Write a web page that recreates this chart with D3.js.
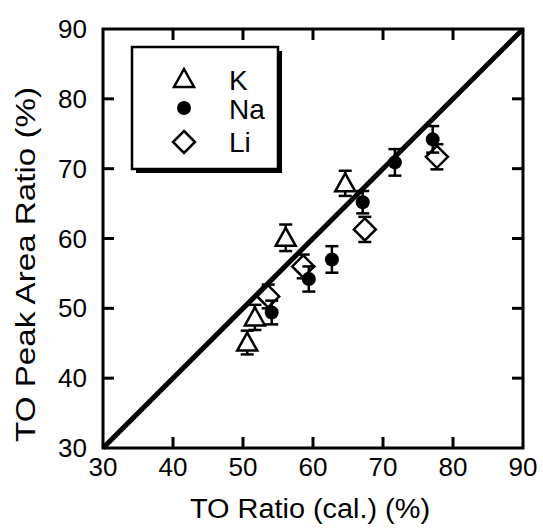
<!DOCTYPE html>
<html><head><meta charset="utf-8">
<script src="https://cdn.jsdelivr.net/npm/d3@7"></script>
<style>body{margin:0;background:#fff}svg{display:block}text{font-family:"Liberation Sans",Arial,sans-serif;fill:#000}</style>
</head><body>
<script>
const ticks = [30, 40, 50, 60, 70, 80, 90];
const kX = [50.6, 51.7, 56.1, 64.6];
const kY = [45.1, 48.7, 60.1, 67.9];
const kErr = [1.7, 1.8, 1.9, 1.8];
const naX = [54.1, 59.4, 62.7, 67.1, 71.7, 77.1];
const naY = [49.4, 54.2, 57.0, 65.2, 70.9, 74.2];
const naErr = [1.7, 1.8, 1.9, 1.6, 1.9, 1.9];
const liX = [53.6, 58.6, 67.4, 77.7];
const liY = [51.7, 56.0, 61.3, 71.7];
const liErr = [1.7, 1.7, 1.8, 1.8];
const seriesNames = ["K", "Na", "Li"];

const W = 543, H = 529;
const svg = d3.select("body").append("svg").attr("width", W).attr("height", H);
const x = d3.scaleLinear().domain([30, 90]).range([103, 523]);
const y = d3.scaleLinear().domain([30, 90]).range([448, 29]);

const g = svg.append("g");
g.append("rect").attr("x", x(30)).attr("y", y(90)).attr("width", x(90) - x(30)).attr("height", y(30) - y(90))
  .attr("fill", "none").attr("stroke", "#000").attr("stroke-width", 3);

const tl = 11;
const inner = ticks.slice(1, -1);
inner.forEach(t => {
  g.append("line").attr("x1", x(t)).attr("x2", x(t)).attr("y1", y(30)).attr("y2", y(30) - tl).attr("stroke", "#000").attr("stroke-width", 3);
  g.append("line").attr("x1", x(t)).attr("x2", x(t)).attr("y1", y(90)).attr("y2", y(90) + tl).attr("stroke", "#000").attr("stroke-width", 3);
  g.append("line").attr("y1", y(t)).attr("y2", y(t)).attr("x1", x(30)).attr("x2", x(30) + tl).attr("stroke", "#000").attr("stroke-width", 3);
  g.append("line").attr("y1", y(t)).attr("y2", y(t)).attr("x1", x(90)).attr("x2", x(90) - tl).attr("stroke", "#000").attr("stroke-width", 3);
});
ticks.forEach(t => {
  g.append("text").attr("x", x(t)).attr("y", 476).attr("text-anchor", "middle").attr("font-size", 26).text(t);
  g.append("text").attr("x", 87).attr("y", y(t) + 9).attr("text-anchor", "end").attr("font-size", 26).text(t);
});
g.append("text").attr("x", 190).attr("y", 518).attr("font-size", 27)
  .attr("textLength", 240).attr("lengthAdjust", "spacingAndGlyphs").text("TO Ratio (cal.) (%)");
g.append("text").attr("transform", `translate(35,442) rotate(-90)`).attr("font-size", 27)
  .attr("textLength", 355).attr("lengthAdjust", "spacingAndGlyphs").text("TO Peak Area Ratio (%)");

g.append("line").attr("x1", x(30)).attr("y1", y(30)).attr("x2", x(90)).attr("y2", y(90)).attr("stroke", "#000").attr("stroke-width", 5);

function drawMarker(sel, kind, cx, cy) {
  if (kind === "K") {
    const s = 10;
    sel.append("path").attr("d", `M${cx},${cy - s} L${cx + s},${cy + s * 0.8} L${cx - s},${cy + s * 0.8} Z`)
      .attr("fill", "#fff").attr("stroke", "#000").attr("stroke-width", 2.5);
  } else if (kind === "Na") {
    sel.append("circle").attr("cx", cx).attr("cy", cy).attr("r", 7).attr("fill", "#000");
  } else {
    const s = 11;
    sel.append("path").attr("d", `M${cx},${cy - s} L${cx + s},${cy} L${cx},${cy + s} L${cx - s},${cy} Z`)
      .attr("fill", "#fff").attr("stroke", "#000").attr("stroke-width", 2.5);
  }
}
function drawSeries(kind, xs, ys, es) {
  const sg = g.append("g");
  xs.forEach((xv, i) => {
    const cx = x(xv), top = y(ys[i] + es[i]), bot = y(ys[i] - es[i]);
    sg.append("line").attr("x1", cx).attr("x2", cx).attr("y1", top).attr("y2", bot).attr("stroke", "#000").attr("stroke-width", 2.5);
    [top, bot].forEach(yy => sg.append("line").attr("x1", cx - 6.5).attr("x2", cx + 6.5).attr("y1", yy).attr("y2", yy).attr("stroke", "#000").attr("stroke-width", 2.5));
  });
  xs.forEach((xv, i) => drawMarker(sg, kind, x(xv), y(ys[i])));
}
drawSeries("K", kX, kY, kErr);
drawSeries("Li", liX, liY, liErr);
drawSeries("Na", naX, naY, naErr);

const lg = g.append("g");
lg.append("rect").attr("x", 136).attr("y", 51).attr("width", 146).attr("height", 122).attr("fill", "#000");
lg.append("rect").attr("x", 132).attr("y", 47).attr("width", 146).attr("height", 122).attr("fill", "#fff").attr("stroke", "#000").attr("stroke-width", 2.5);
const ly = [80, 109, 142];
const lyc = [79, 108, 142];
seriesNames.forEach((n, i) => {
  drawMarker(lg, n, 184, lyc[i]);
  lg.append("text").attr("x", 229).attr("y", ly[i] + 10).attr("font-size", 28).text(n);
});
</script>
</body></html>
